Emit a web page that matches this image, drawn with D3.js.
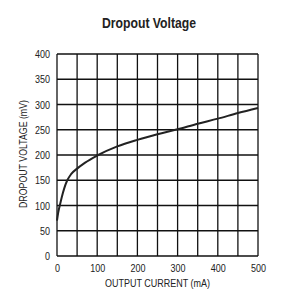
<!DOCTYPE html>
<html>
<head>
<meta charset="utf-8">
<script src="https://cdn.jsdelivr.net/npm/d3@7"></script>
<style>
  body { margin: 0; background: #fff; }
  text { font-family: "Liberation Sans", Arial, sans-serif; fill: #222; }
</style>
</head>
<body>
<svg width="292" height="304"></svg>
<script>
// Output current (mA) vs dropout voltage (mV)
const current = [0, 3, 7.5, 12, 18, 25, 35, 50, 70, 100, 150, 200, 250, 300, 350, 400, 450, 500];
const dropout = [70, 86, 102, 117, 134, 149, 162, 173, 185, 199, 217, 230, 241, 251, 262, 272, 283, 293];

const xTicks = [0, 100, 200, 300, 400, 500];
const yTicks = [0, 50, 100, 150, 200, 250, 300, 350, 400];
const xGrid = d3.range(0, 501, 50);

const svg = d3.select("svg");
const margin = { left: 57, right: 34, top: 54, bottom: 48 };
const width = 292 - margin.left - margin.right,
  height = 304 - margin.top - margin.bottom;

const x = d3.scaleLinear().domain([0, 500]).range([margin.left, margin.left + width]);
const y = d3.scaleLinear().domain([0, 400]).range([margin.top + height, margin.top]);

// Title (condensed look via textLength)
svg.append("text")
  .attr("x", 149)
  .attr("y", 28)
  .attr("text-anchor", "middle")
  .attr("font-size", 14)
  .attr("font-weight", "bold")
  .attr("textLength", 94)
  .attr("lengthAdjust", "spacingAndGlyphs")
  .text("Dropout Voltage");

// Grid
const grid = svg.append("g").attr("stroke", "#111").attr("stroke-width", 1.3);
grid.selectAll("line.v")
  .data(xGrid)
  .enter()
  .append("line")
  .attr("x1", (d) => x(d))
  .attr("x2", (d) => x(d))
  .attr("y1", y(0))
  .attr("y2", y(400));
grid.selectAll("line.h")
  .data(yTicks)
  .enter()
  .append("line")
  .attr("x1", x(0))
  .attr("x2", x(500))
  .attr("y1", (d) => y(d))
  .attr("y2", (d) => y(d));

// Axes (labels only)
const xAxis = svg.append("g")
  .attr("transform", `translate(0,${y(0)})`)
  .call(d3.axisBottom(x).tickValues(xTicks).tickSize(0).tickPadding(8));
const yAxis = svg.append("g")
  .attr("transform", `translate(${x(0)},0)`)
  .call(d3.axisLeft(y).tickValues(yTicks).tickSize(0).tickPadding(7));
[xAxis, yAxis].forEach((a) => {
  a.select(".domain").remove();
  a.selectAll("text")
    .attr("font-size", 11)
    .attr("fill", "#222")
    .attr("textLength", (d) => String(d).length * 5)
    .attr("lengthAdjust", "spacingAndGlyphs")
    .style("font-family", '"Liberation Sans", Arial, sans-serif');
});

// Axis titles
svg.append("text")
  .attr("x", x(250))
  .attr("y", 287)
  .attr("text-anchor", "middle")
  .attr("font-size", 11)
  .attr("textLength", 105)
  .attr("lengthAdjust", "spacingAndGlyphs")
  .text("OUTPUT CURRENT (mA)");
svg.append("text")
  .attr("transform", "translate(27,154) rotate(-90)")
  .attr("text-anchor", "middle")
  .attr("font-size", 11)
  .attr("textLength", 108)
  .attr("lengthAdjust", "spacingAndGlyphs")
  .text("DROPOUT VOLTAGE (mV)");

// Curve
const line = d3.line()
  .x((d, i) => x(current[i]))
  .y((d) => y(d))
  .curve(d3.curveMonotoneX);
svg.append("path")
  .datum(dropout)
  .attr("fill", "none")
  .attr("stroke", "#222")
  .attr("stroke-width", 2)
  .attr("d", line);
</script>
</body>
</html>
